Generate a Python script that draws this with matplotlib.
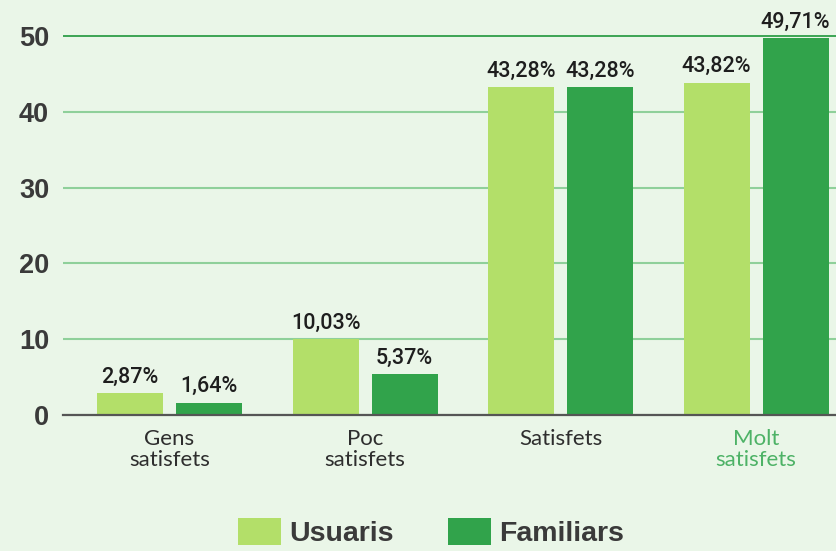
import matplotlib
matplotlib.use("Agg")
import matplotlib.pyplot as plt
import numpy as np

categories = ["Gens\nsatisfets", "Poc\nsatisfets", "Satisfets", "Molt\nsatisfets"]
usuaris = [2.87, 10.03, 43.28, 43.82]
familiars = [1.64, 5.37, 43.28, 49.71]
series_names = ["Usuaris", "Familiars"]
yticks = [0, 10, 20, 30, 40, 50]

BG = "#eaf6e8"
C_LIGHT = "#b3df69"
C_DARK = "#31a34b"

fig = plt.figure(figsize=(8.37, 5.51), dpi=100, facecolor=BG)
ax = fig.add_axes([63/837, 1 - 415/551, 1 - 63/837, 415/551])
ax.set_facecolor(BG)

x = np.arange(len(categories))
w = 0.3376
off = 0.202
b1 = ax.bar(x - off, usuaris, w, color=C_LIGHT, label=series_names[0], zorder=3)
b2 = ax.bar(x + off, familiars, w, color=C_DARK, label=series_names[1], zorder=3)

fmt = lambda v: f"{v:.2f}".replace(".", ",") + "%"
for bars, vals in ((b1, usuaris), (b2, familiars)):
    ax.bar_label(bars, labels=[fmt(v) for v in vals], padding=4,
                 fontsize=15.5, fontfamily="Roboto", fontweight="medium",
                 color="#1e1e1e")

ax.set_xlim(-0.545, 3.414)
ax.set_ylim(0, 415/7.58)
ax.set_yticks(yticks)
ax.set_yticklabels([str(t) for t in yticks], fontsize=19.5, fontweight="bold",
                   fontfamily="Liberation Sans", color="#3a3a3a")
ax.set_xticks(x)
ax.set_xticklabels(categories, fontsize=16, fontfamily="Lato",
                   color="#2e2e2e", linespacing=1.1)
ax.get_xticklabels()[3].set_color("#4db266")
ax.tick_params(axis="both", length=0)
ax.tick_params(axis="y", pad=10)
ax.tick_params(axis="x", pad=10)

for s in ["top", "right", "left"]:
    ax.spines[s].set_visible(False)
ax.spines["bottom"].set_color("#555555")
ax.spines["bottom"].set_linewidth(1.6)
ax.spines["bottom"].set_zorder(4)

ax.yaxis.grid(True, color="#8fd09a", linewidth=1.5, zorder=0)
gl = ax.get_ygridlines()
gl[-1].set_color("#2e9e48")
gl[-1].set_linewidth(1.3)

leg = fig.legend(handles=[b1, b2], loc="lower center", bbox_to_anchor=(0.515, -0.04),
                 ncol=2, frameon=False, prop={"family": "Liberation Sans", "weight": "bold", "size": 20.5},
                 handlelength=1.5, handleheight=1.1, columnspacing=1.9, handletextpad=0.3)
for t in leg.get_texts():
    t.set_color("#3a3a3a")

fig.savefig("out.png", dpi=100, facecolor=BG)
